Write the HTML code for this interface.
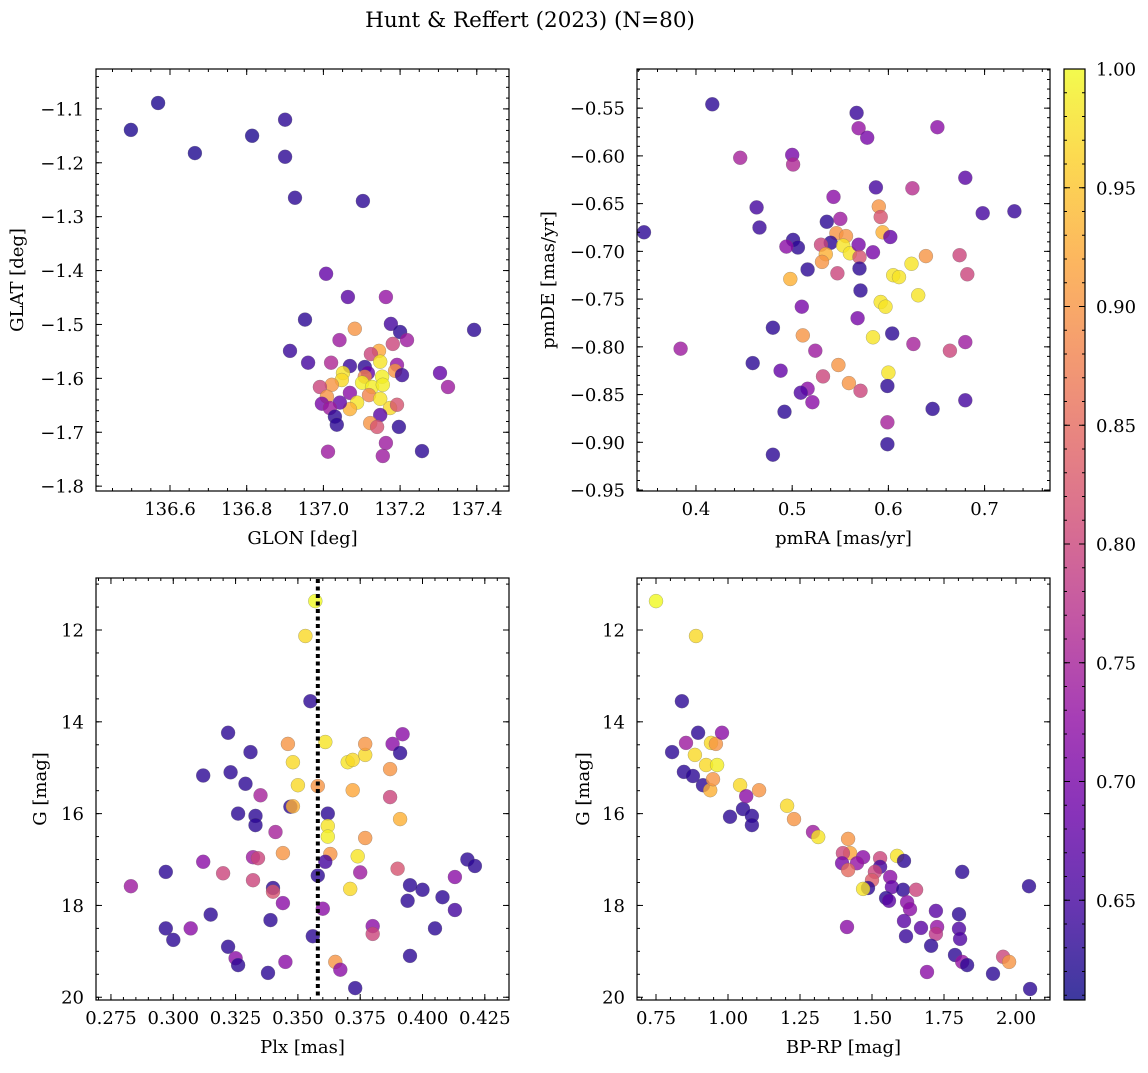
<!DOCTYPE html>
<html><head><meta charset="utf-8"><style>
body{margin:0;background:#fff;}
svg text{font-family:"DejaVu Serif","Liberation Serif",serif;fill:#000;}
</style></head><body>
<svg id="c" width="1148" height="1068" viewBox="0 0 1148 1068" xmlns="http://www.w3.org/2000/svg">
<text x="530" y="27" font-size="21.5" text-anchor="middle">Hunt &amp; Reffert (2023) (N=80)</text>
</svg>
<script>
// ---- Panel 1: GLON vs GLAT ----
const p1x=[136.498,136.569,136.665,136.814,136.900,136.900,136.926,137.103,137.007,137.064,137.163,136.952,137.082,137.176,137.200,137.218,137.393,137.042,136.913,136.960,137.020,137.069,137.181,137.145,137.124,137.148,137.192,137.187,137.205,137.108,137.116,137.051,137.048,137.022,136.991,137.108,137.101,137.127,137.153,137.155,137.119,137.148,137.174,137.192,137.069,137.088,137.069,137.043,137.009,136.996,137.017,137.030,137.035,137.148,137.122,137.140,137.197,137.304,137.325,137.163,137.155,137.012,137.257];
const p1y=[-1.139,-1.089,-1.182,-1.150,-1.120,-1.189,-1.265,-1.271,-1.406,-1.449,-1.449,-1.491,-1.508,-1.499,-1.514,-1.529,-1.510,-1.529,-1.549,-1.571,-1.571,-1.577,-1.536,-1.549,-1.555,-1.569,-1.575,-1.586,-1.594,-1.579,-1.590,-1.590,-1.603,-1.612,-1.616,-1.597,-1.608,-1.616,-1.597,-1.612,-1.631,-1.638,-1.655,-1.649,-1.627,-1.645,-1.657,-1.645,-1.634,-1.647,-1.655,-1.671,-1.686,-1.668,-1.683,-1.690,-1.690,-1.590,-1.616,-1.720,-1.744,-1.736,-1.735];
const p1c=[.62,.62,.62,.62,.63,.63,.63,.63,.68,.67,.73,.63,.9,.65,.63,.74,.63,.74,.64,.65,.76,.64,.8,.92,.8,.98,.73,.9,.64,.63,.68,.98,.97,.9,.8,.88,.99,.99,.99,.99,.88,.98,.97,.82,.72,.98,.93,.68,.9,.7,.74,.63,.63,.67,.9,.82,.63,.68,.74,.74,.74,.74,.63];
// ---- Panel 2: pmRA vs pmDE ----
const p2x=[0.417,0.346,0.567,0.569,0.578,0.651,0.446,0.500,0.501,0.587,0.625,0.680,0.463,0.466,0.698,0.731,0.384,0.543,0.536,0.550,0.590,0.592,0.594,0.602,0.501,0.506,0.494,0.546,0.556,0.540,0.530,0.535,0.531,0.553,0.560,0.569,0.570,0.584,0.570,0.516,0.498,0.547,0.605,0.611,0.624,0.639,0.674,0.682,0.571,0.510,0.592,0.597,0.631,0.480,0.511,0.568,0.604,0.584,0.626,0.664,0.680,0.524,0.459,0.488,0.548,0.532,0.600,0.559,0.571,0.599,0.516,0.509,0.521,0.492,0.646,0.680,0.599,0.599,0.480];
const p2y=[-0.546,-0.680,-0.555,-0.571,-0.581,-0.570,-0.602,-0.599,-0.609,-0.633,-0.634,-0.623,-0.654,-0.675,-0.660,-0.658,-0.802,-0.643,-0.669,-0.666,-0.653,-0.664,-0.680,-0.685,-0.688,-0.696,-0.695,-0.681,-0.684,-0.691,-0.693,-0.703,-0.711,-0.694,-0.702,-0.693,-0.706,-0.701,-0.718,-0.719,-0.729,-0.723,-0.725,-0.727,-0.713,-0.705,-0.704,-0.724,-0.741,-0.758,-0.753,-0.758,-0.746,-0.780,-0.788,-0.770,-0.786,-0.790,-0.797,-0.804,-0.795,-0.804,-0.817,-0.825,-0.819,-0.831,-0.827,-0.838,-0.846,-0.841,-0.844,-0.848,-0.858,-0.868,-0.865,-0.856,-0.879,-0.902,-0.913];
const p2c=[.63,.63,.64,.73,.7,.72,.75,.7,.76,.65,.77,.67,.65,.64,.65,.64,.74,.72,.63,.74,.9,.82,.93,.68,.63,.63,.72,.9,.9,.63,.8,.93,.9,.98,.98,.7,.82,.7,.63,.63,.93,.8,.98,.98,.98,.9,.8,.8,.63,.7,.98,.98,.98,.63,.9,.7,.63,.98,.75,.8,.74,.74,.63,.68,.9,.8,.98,.9,.8,.63,.72,.66,.72,.63,.63,.65,.75,.63,.63];
// ---- Panel 3: Plx vs G ----
const p3x=[0.357,0.353,0.355,0.283,0.297,0.297,0.300,0.307,0.312,0.312,0.315,0.320,0.322,0.323,0.322,0.325,0.326,0.326,0.331,0.329,0.333,0.333,0.332,0.334,0.335,0.332,0.338,0.339,0.340,0.340,0.341,0.344,0.344,0.345,0.346,0.348,0.347,0.348,0.350,0.358,0.361,0.362,0.362,0.362,0.363,0.361,0.358,0.360,0.356,0.365,0.367,0.373,0.370,0.372,0.372,0.377,0.377,0.374,0.375,0.371,0.377,0.380,0.380,0.388,0.387,0.387,0.390,0.391,0.392,0.391,0.394,0.395,0.395,0.400,0.405,0.408,0.413,0.413,0.418,0.421];
const p3y=[11.37,12.13,13.55,17.58,17.27,18.5,18.75,18.5,17.05,15.17,18.2,17.3,14.24,15.1,18.9,19.15,19.3,16.0,14.66,15.35,16.05,16.25,16.95,16.97,15.6,17.45,19.47,18.32,17.62,17.7,16.4,17.95,16.86,19.23,14.48,14.88,15.85,15.84,15.38,15.4,14.44,16.0,16.27,16.5,16.88,17.05,17.35,18.07,18.67,19.23,19.4,19.8,14.88,14.83,15.49,14.72,14.48,16.93,17.28,17.64,16.53,18.45,18.62,14.48,15.03,15.64,17.2,16.12,14.27,14.68,17.9,17.56,19.1,17.66,18.5,17.82,17.38,18.1,17.0,17.14];
const p3c=[1.0,.97,.63,.74,.63,.63,.63,.72,.72,.63,.63,.8,.63,.63,.63,.72,.63,.63,.63,.63,.63,.63,.74,.8,.75,.8,.63,.63,.63,.82,.75,.72,.9,.72,.9,.97,.63,.93,.97,.9,.98,.63,.98,.99,.9,.65,.63,.72,.63,.9,.72,.63,.98,.97,.92,.97,.9,.98,.74,.97,.9,.72,.8,.72,.9,.8,.82,.93,.72,.63,.63,.63,.63,.63,.63,.63,.72,.65,.63,.63];
// ---- Panel 4: BP-RP vs G ----
const p4x=[0.750,0.889,0.840,0.806,0.854,0.847,0.878,0.885,0.896,0.913,0.938,0.924,0.941,0.958,0.979,0.962,0.948,1.042,1.052,1.063,1.083,1.083,1.108,1.007,1.229,1.205,1.295,1.313,1.417,1.424,1.399,1.469,1.396,1.448,1.417,1.528,1.528,1.587,1.611,1.813,2.045,1.510,1.500,1.486,1.469,1.563,1.569,1.608,1.653,1.549,1.559,1.622,1.632,1.722,1.802,1.611,1.413,1.670,1.726,1.722,1.802,1.806,1.618,1.705,1.788,1.813,1.830,1.691,1.920,1.955,1.976,2.049];
const p4y=[11.37,12.13,13.55,14.66,14.46,15.09,15.18,14.72,14.24,15.38,15.49,14.94,14.46,14.48,14.24,14.94,15.25,15.38,15.9,15.62,16.05,16.25,15.49,16.07,16.12,15.83,16.40,16.51,16.55,16.86,16.86,16.95,17.08,17.08,17.23,16.97,17.16,16.92,17.03,17.27,17.58,17.27,17.45,17.62,17.64,17.38,17.60,17.66,17.66,17.84,17.90,17.93,18.08,18.12,18.19,18.34,18.47,18.49,18.47,18.62,18.51,18.73,18.67,18.88,19.08,19.23,19.30,19.45,19.49,19.12,19.23,19.82];
const p4c=[1.0,.97,.63,.63,.74,.63,.63,.97,.63,.63,.93,.97,.97,.9,.72,.99,.9,.97,.63,.72,.63,.63,.9,.63,.9,.97,.74,.98,.9,.92,.8,.72,.7,.73,.85,.8,.65,.98,.63,.63,.63,.8,.83,.63,.98,.72,.68,.63,.8,.63,.67,.72,.72,.67,.63,.67,.72,.67,.73,.78,.66,.66,.64,.63,.63,.73,.63,.72,.63,.8,.9,.63];
// ticks
const t1x=[136.6,136.8,137.0,137.2,137.4], t1xl=["136.6","136.8","137.0","137.2","137.4"];
const t1y=[-1.1,-1.2,-1.3,-1.4,-1.5,-1.6,-1.7,-1.8], t1yl=["−1.1","−1.2","−1.3","−1.4","−1.5","−1.6","−1.7","−1.8"];
const t2x=[0.4,0.5,0.6,0.7], t2xl=["0.4","0.5","0.6","0.7"];
const t2y=[-0.55,-0.6,-0.65,-0.7,-0.75,-0.8,-0.85,-0.9,-0.95], t2yl=["−0.55","−0.60","−0.65","−0.70","−0.75","−0.80","−0.85","−0.90","−0.95"];
const t3x=[0.275,0.3,0.325,0.35,0.375,0.4,0.425], t3xl=["0.275","0.300","0.325","0.350","0.375","0.400","0.425"];
const tGy=[12,14,16,18,20], tGyl=["12","14","16","18","20"];
const t4x=[0.75,1.0,1.25,1.5,1.75,2.0], t4xl=["0.75","1.00","1.25","1.50","1.75","2.00"];
const tcb=[0.65,0.7,0.75,0.8,0.85,0.9,0.95,1.0], tcbl=["0.65","0.70","0.75","0.80","0.85","0.90","0.95","1.00"];
const plxLine=0.358;
const cmin=0.608, cmax=1.0;

const svg=document.getElementById('c');
const NS='http://www.w3.org/2000/svg';
const FS=18;
function mk(tag,at,parent){const e=document.createElementNS(NS,tag);for(const k in at)e.setAttribute(k,at[k]);(parent||svg).appendChild(e);return e;}
const stops=[[13,8,135],[65,4,157],[106,0,168],[143,13,164],[177,42,144],[204,71,120],[225,100,98],[242,132,75],[252,166,54],[252,206,37],[240,249,33]];
function plasma(v){let t=(v-cmin)/(cmax-cmin);t=Math.max(0,Math.min(1,t))*10;const i=Math.min(9,Math.floor(t)),f=t-i;const a=stops[i],b=stops[i+1];return `rgb(${Math.round(a[0]+(b[0]-a[0])*f)},${Math.round(a[1]+(b[1]-a[1])*f)},${Math.round(a[2]+(b[2]-a[2])*f)})`;}

function panel(name,L,T,R,B,xd,yd,xs,ys,xl,yl,xmin,ymin,xlab,ylab,X,Y,C,yinv,ylOff){
  const g=mk('g',{});
  
  
  const sx=v=>L+(v-xd[0])/(xd[1]-xd[0])*(R-L);
  const sy=v=>yinv? T+(v-yd[0])/(yd[1]-yd[0])*(B-T) : B-(v-yd[0])/(yd[1]-yd[0])*(B-T);
  const clip='clip-'+name;
  const cp=mk('clipPath',{id:clip},g);mk('rect',{x:L,y:T,width:R-L,height:B-T},cp);
  const pts=mk('g',{'clip-path':`url(#${clip})`},g);
  for(let i=0;i<X.length;i++){
    const c=mk('circle',{cx:sx(X[i]).toFixed(1),cy:sy(Y[i]).toFixed(1),r:7,fill:plasma(C[i]),'fill-opacity':0.8,stroke:'#666','stroke-opacity':0.5,'stroke-width':0.5},pts);
    
    
  }
  const fr=mk('rect',{x:L,y:T,width:R-L,height:B-T,fill:'none',stroke:'#000','stroke-width':1.2},g);
  
  
  const tk=mk('g',{stroke:'#000','stroke-width':1},g);
  const lo=Math.min(xd[0],xd[1]),hi=Math.max(xd[0],xd[1]);
  for(let v=Math.ceil(lo/xmin-1e-6)*xmin;v<=hi+1e-9;v+=xmin){const x=sx(v);mk('line',{x1:x,y1:B,x2:x,y2:B-3},tk);mk('line',{x1:x,y1:T,x2:x,y2:T+3},tk);}
  const ylo=Math.min(yd[0],yd[1]),yhi=Math.max(yd[0],yd[1]);
  for(let v=Math.ceil(ylo/ymin-1e-6)*ymin;v<=yhi+1e-9;v+=ymin){const y=sy(v);mk('line',{x1:L,y1:y,x2:L+3,y2:y},tk);mk('line',{x1:R,y1:y,x2:R-3,y2:y},tk);}
  xs.forEach((v,i)=>{const x=sx(v);mk('line',{x1:x,y1:B,x2:x,y2:B-6},tk);mk('line',{x1:x,y1:T,x2:x,y2:T+6},tk);
    const t=mk('text',{x:x,y:B+24,'font-size':FS,'text-anchor':'middle'},g);t.textContent=xl[i];
    
    });
  ys.forEach((v,i)=>{const y=sy(v);mk('line',{x1:L,y1:y,x2:L+6,y2:y},tk);mk('line',{x1:R,y1:y,x2:R-6,y2:y},tk);
    const t=mk('text',{x:L-12,y:y+6.5,'font-size':FS,'text-anchor':'end'},g);t.textContent=yl[i];
    
    });
  const xt=mk('text',{x:(L+R)/2,y:B+53,'font-size':FS,'text-anchor':'middle'},g);xt.textContent=xlab;
  
  
  const yx=L-ylOff+6;
  const yt=mk('text',{x:yx,y:(T+B)/2,'font-size':FS,'text-anchor':'middle',transform:`rotate(-90 ${yx} ${(T+B)/2})`},g);yt.textContent=ylab;
  
  
  return {sx,sy,g};
}
panel('glon-glat-panel',96,69,509,491,[136.407,137.484],[-1.809,-1.026],t1x,t1y,t1xl,t1yl,0.05,0.02,'GLON [deg]','GLAT [deg]',p1x,p1y,p1c,false,79);
panel('pm-panel',637,69,1050,491,[0.3387,0.768],[-0.951,-0.509],t2x,t2y,t2xl,t2yl,0.02,0.01,'pmRA [mas/yr]','pmDE [mas/yr]',p2x,p2y,p2c,false,89);
const P3=panel('plx-g-panel',96,578,509,1000,[0.269,0.4347],[10.867,20.06],t3x,tGy,t3xl,tGyl,0.005,0.5,'Plx [mas]','G [mag]',p3x,p3y,p3c,true,56);
const ln=mk('line',{x1:P3.sx(plxLine),y1:579,x2:P3.sx(plxLine),y2:999,stroke:'#000','stroke-width':4,'stroke-dasharray':'4 3.5'},P3.g);


panel('cmd-panel',637,578,1050,1000,[0.684,2.118],[10.867,20.06],t4x,tGy,t4xl,tGyl,0.05,0.5,'BP-RP [mag]','G [mag]',p4x,p4y,p4c,true,54);

// colorbar
const cb=mk('g',{});


const CL=1064,CR=1085,CT=69,CB=1000;
const gr=mk('linearGradient',{id:'pl',x1:0,y1:1,x2:0,y2:0},mk('defs',{},cb));
for(let i=0;i<=20;i++){const v=cmin+(cmax-cmin)*i/20;mk('stop',{offset:i/20,'stop-color':plasma(v),'stop-opacity':0.8},gr);}
mk('rect',{x:CL,y:CT,width:CR-CL,height:CB-CT,fill:'url(#pl)',stroke:'#000','stroke-width':1.2},cb);
const cy=v=>CB-(v-cmin)/(cmax-cmin)*(CB-CT);
for(let v=0.61;v<=1.0001;v+=0.01){const y=cy(v);mk('line',{x1:CR,y1:y,x2:CR-3,y2:y,stroke:'#000'},cb);mk('line',{x1:CL,y1:y,x2:CL+3,y2:y,stroke:'#000'},cb);}
tcb.forEach((v,i)=>{const y=cy(v);mk('line',{x1:CR,y1:y,x2:CR-6,y2:y,stroke:'#000'},cb);mk('line',{x1:CL,y1:y,x2:CL+6,y2:y,stroke:'#000'},cb);
  const t=mk('text',{x:CR+11,y:y+6.5,'font-size':FS},cb);t.textContent=tcbl[i];
  
  });
</script>
</body></html>
